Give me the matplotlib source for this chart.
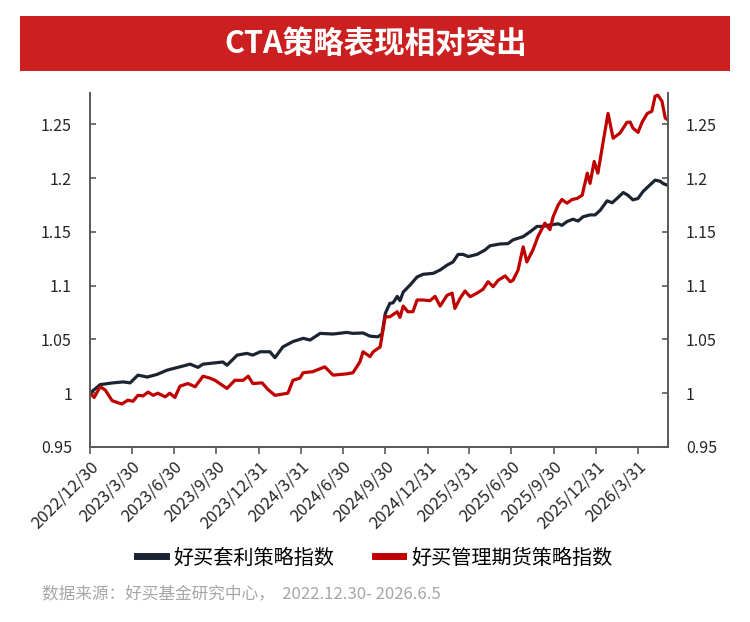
import pandas as pd
import matplotlib
matplotlib.use("Agg")
import matplotlib.pyplot as plt
from matplotlib.patches import Rectangle

plt.rcParams['font.family'] = ['Noto Sans CJK SC', 'DejaVu Sans']

start = pd.Timestamp("2022-12-30")
end = pd.Timestamp("2026-06-05")

# 好买套利策略指数 (days after start, index value)
arb_days = [0, 22, 50, 72, 87, 104, 124, 145, 167, 195, 217, 234, 245, 267, 288, 297,
            319, 340, 353, 369, 390, 401, 418, 440, 462, 477, 499, 527, 557, 570, 592,
            607, 624, 633, 640, 650, 657, 666, 672, 679, 694, 709, 722, 744, 759, 774,
            787, 798, 809, 820, 839, 856, 867, 889, 906, 917, 939, 954, 969, 982, 997,
            1015, 1023, 1034, 1047, 1058, 1069, 1084, 1095, 1106, 1121, 1132, 1145,
            1156, 1166, 1177, 1188, 1199, 1210, 1225, 1236, 1242, 1253]
arb_vals = [1.000, 1.008, 1.0096, 1.0105, 1.0096, 1.0168, 1.015, 1.0174, 1.0214, 1.0245,
            1.027, 1.024, 1.027, 1.028, 1.029, 1.026, 1.0354, 1.037, 1.0354, 1.0385,
            1.0385, 1.033, 1.043, 1.048, 1.051, 1.0494, 1.0556, 1.055, 1.0565, 1.0556,
            1.056, 1.053, 1.0524, 1.055, 1.074, 1.0835, 1.084, 1.090, 1.086, 1.094,
            1.1006, 1.108, 1.1105, 1.1114, 1.1145, 1.119, 1.122, 1.129, 1.129, 1.127,
            1.129, 1.133, 1.137, 1.1387, 1.139, 1.1425, 1.1455, 1.150, 1.155, 1.155,
            1.1564, 1.1574, 1.156, 1.1595, 1.1617, 1.160, 1.164, 1.1657, 1.1657, 1.170,
            1.1788, 1.177, 1.182, 1.1865, 1.184, 1.1797, 1.181, 1.1875, 1.192, 1.198,
            1.197, 1.195, 1.193]

# 好买管理期货策略指数
mf_days = [0, 9, 22, 33, 48, 69, 82, 93, 104, 115, 126, 137, 147, 163, 173, 184, 195,
           212, 228, 245, 260, 271, 297, 314, 332, 343, 353, 373, 386, 401, 429, 440,
           455, 462, 483, 509, 527, 557, 570, 585, 592, 607, 614, 629, 640, 650, 666,
           672, 679, 689, 700, 709, 722, 737, 748, 759, 774, 785, 791, 802, 813, 824,
           839, 852, 863, 874, 885, 900, 911, 917, 928, 939, 947, 960, 971, 986, 997,
           1004, 1015, 1023, 1034, 1045, 1056, 1067, 1078, 1084, 1093, 1101, 1112,
           1123, 1134, 1149, 1164, 1171, 1177, 1188, 1197, 1208, 1218, 1225, 1231,
           1240, 1247, 1253]
mf_vals = [1.000, 0.996, 1.006, 1.003, 0.993, 0.990, 0.9935, 0.9925, 0.998, 0.9975,
           1.001, 0.998, 1.000, 0.9966, 1.000, 0.996, 1.0065, 1.009, 1.006, 1.0158,
           1.014, 1.012, 1.0044, 1.012, 1.012, 1.0158, 1.009, 1.0096, 1.0034, 0.998,
           1.000, 1.012, 1.014, 1.019, 1.020, 1.0245, 1.0168, 1.018, 1.019, 1.029,
           1.0385, 1.034, 1.0385, 1.043, 1.071, 1.071, 1.0757, 1.0705, 1.081, 1.0757,
           1.0757, 1.0866, 1.0866, 1.086, 1.090, 1.081, 1.091, 1.093, 1.0788, 1.088,
           1.095, 1.0897, 1.093, 1.0966, 1.1036, 1.099, 1.105, 1.109, 1.1036, 1.105,
           1.1145, 1.136, 1.122, 1.133, 1.1455, 1.158, 1.152, 1.164, 1.175, 1.180,
           1.1766, 1.180, 1.181, 1.184, 1.2045, 1.195, 1.2154, 1.2045, 1.2325, 1.260,
           1.237, 1.2418, 1.2517, 1.252, 1.2464, 1.2424, 1.252, 1.260, 1.262, 1.276,
           1.277, 1.2713, 1.2557, 1.254]

tick_dates = ["2022-12-30", "2023-03-30", "2023-06-30", "2023-09-30", "2023-12-31",
              "2024-03-31", "2024-06-30", "2024-09-30", "2024-12-31", "2025-03-31",
              "2025-06-30", "2025-09-30", "2025-12-31", "2026-03-31"]
tick_labels = ["2022/12/30", "2023/3/30", "2023/6/30", "2023/9/30", "2023/12/31",
               "2024/3/31", "2024/6/30", "2024/9/30", "2024/12/31", "2025/3/31",
               "2025/6/30", "2025/9/30", "2025/12/31", "2026/3/31"]
y_ticks = [0.95, 1.0, 1.05, 1.1, 1.15, 1.2, 1.25]
y_labels = ["0.95", "1", "1.05", "1.1", "1.15", "1.2", "1.25"]

arb_x = start + pd.to_timedelta(arb_days, unit="D")
mf_x = start + pd.to_timedelta(mf_days, unit="D")

fig = plt.figure(figsize=(7.5, 6.22), dpi=100)
ax = fig.add_axes([90 / 750, 1 - 447 / 622, 578 / 750, 354 / 622])

# title banner
fig.patches.append(Rectangle((20 / 750, 1 - 71 / 622), 710 / 750, 55 / 622,
                             transform=fig.transFigure, facecolor="#cc2020",
                             edgecolor="none"))
fig.text(376 / 750, 1 - 44 / 622, "CTA策略表现相对突出", color="white",
         fontsize=22, fontweight="bold", ha="center", va="center")

ax.plot(arb_x, arb_vals, color="#1b2431", lw=2.3, label="好买套利策略指数")
ax.plot(mf_x, mf_vals, color="#c00000", lw=2.3, label="好买管理期货策略指数")

ax.set_xlim(start, end)
ax.set_ylim(0.95, 1.279)

spine_color = "#595959"
for s in ["left", "right", "bottom"]:
    ax.spines[s].set_color(spine_color)
    ax.spines[s].set_linewidth(1.4)
ax.spines["top"].set_visible(False)

ax.set_yticks(y_ticks)
ax.set_yticklabels(y_labels)
ax.tick_params(axis="y", direction="in", length=4, width=1.2, color=spine_color,
               labelsize=11.5, pad=13, left=True, right=True,
               labelleft=True, labelright=True, labelcolor="#262626")

ax.set_xticks(pd.to_datetime(tick_dates))
ax.set_xticklabels(tick_labels, rotation=45, ha="right", rotation_mode="anchor")
ax.tick_params(axis="x", direction="out", length=5, width=1.2, color=spine_color,
               labelsize=12, pad=3, labelcolor="#262626")

fig.legend(loc="center", bbox_to_anchor=(0.5, 1 - 558 / 622), ncol=2, frameon=False,
           handlelength=1.4, handletextpad=0.4, columnspacing=2.0,
           prop={"size": 14.5})
for line in fig.legends[0].get_lines():
    line.set_linewidth(5)

fig.text(42 / 750, 1 - 594 / 622, "数据来源：好买基金研究中心，  2022.12.30- 2026.6.5",
         color="#a6a6a6", fontsize=12, ha="left", va="center")

fig.savefig("out.png", dpi=100)
